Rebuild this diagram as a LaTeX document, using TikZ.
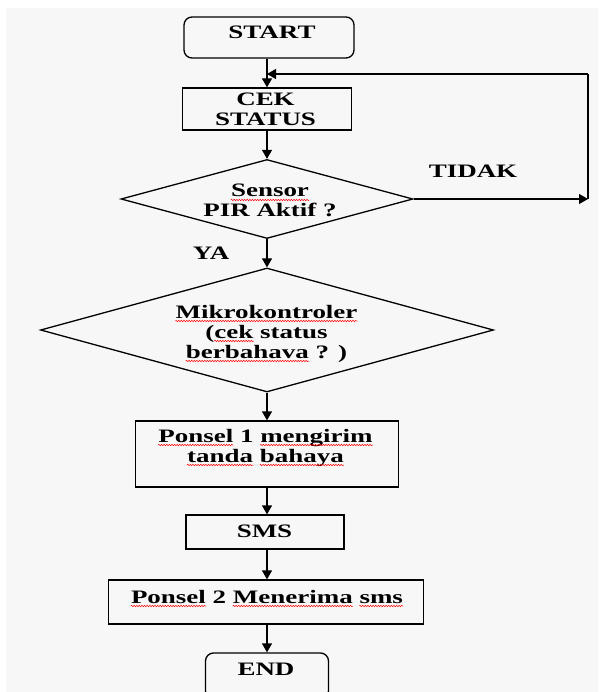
\documentclass[tikz,border=0pt]{standalone}
\usepackage{fontspec}
\newfontfamily\tnr[FakeStretch=1.42]{Liberation Serif}
\usetikzlibrary{shapes.geometric,arrows.meta,decorations.pathmorphing}
\definecolor{bg}{HTML}{F7F7F7}
\newcommand\spellmark[1]{\tikz[baseline=(w.base)]{\node[inner sep=0pt,anchor=base] (w) {#1};\draw[overlay,red,line width=0.5pt,decorate,decoration={snake,amplitude=0.7pt,segment length=2.6pt}] ([yshift=-3pt]w.base west) -- ([yshift=-3pt]w.base east);}}
\begin{document}
\begin{tikzpicture}[x=1pt,y=-1pt,
  outline/.style={draw,line width=1.3pt,inner sep=0pt,rectangle},
  term/.style={outline,rounded corners=8pt},
  decision/.style={draw,line width=1.3pt,inner sep=0pt,diamond},
  txt/.style={font=\tnr\bfseries\fontsize{19}{20}\selectfont,align=center,inner sep=0pt,anchor=base},
  arr/.style={line width=1.3pt,-{Triangle[length=9pt,width=10pt]}},
  ln/.style={line width=1.3pt}]
\useasboundingbox (0,0) rectangle (598,692);
\fill[white] (0,0) rectangle (598,692);
\fill[bg] (6,8) rectangle (598,692);
% shapes
\node[term,minimum width=170pt,minimum height=41pt] (start) at (269,37.5) {};
\node[outline,minimum width=169pt,minimum height=42pt] (cek) at (267,109) {};
\node[decision,minimum width=292pt,minimum height=79pt] (d1) at (267,199) {};
\node[decision,minimum width=453pt,minimum height=124pt] (d2) at (267,330) {};
\node[outline,minimum width=263pt,minimum height=66pt] (p1) at (267,454) {};
\node[outline,minimum width=158pt,minimum height=34pt] (sms) at (265,532) {};
\node[outline,minimum width=315pt,minimum height=44pt] (p2) at (266,602) {};
\node[term,minimum width=123pt,minimum height=46pt] (end) at (267,676) {};
% texts (anchor = baseline of last line)
\node[txt] (tstart) at (272,39) {START};
\node[txt] (tcek) at (265.5,126) {CEK\\STATUS};
\node[txt] (td1) at (270,217) {\spellmark{Sensor}\\PIR Aktif ?};
\node[txt] (ttidak) at (473,178) {TIDAK};
\node[txt] (tya) at (211,259) {YA};
\node[txt] (td2) at (266.5,358) {\spellmark{Mikrokontroler}\\(\spellmark{cek} status\\\spellmark{berbahava} ? )};
\node[txt] (tp1) at (265.5,462) {\spellmark{Ponsel} 1 \spellmark{mengirim}\\\spellmark{tanda} \spellmark{bahaya}};
\node[txt] (tsms) at (264.5,537) {SMS};
\node[txt] (tp2) at (267,603) {\spellmark{Ponsel} 2 \spellmark{Menerima} \spellmark{sms}};
\node[txt] (tend) at (266,675) {END};
% connectors
\coordinate (j) at (267,74);
\coordinate (r) at (588,199);
\coordinate (rt) at (588,74);
\draw[arr] (start.south -| cek.north) -- (cek.north);
\draw[arr] (cek.south) -- (d1.north);
\draw[arr] (d1.south) -- (d2.north);
\draw[arr] (d2.south) -- (p1.north);
\draw[arr] (p1.south) -- (p1.south |- sms.north);
\draw[arr] (p1.south |- sms.south) -- (p1.south |- p2.north);
\draw[arr] (p1.south |- p2.south) -- (end.north);
\draw[arr] (d1.east) -- (r);
\draw[ln] (r) -- (rt);
\draw[arr] (rt) -- (j);
\end{tikzpicture}
\end{document}
